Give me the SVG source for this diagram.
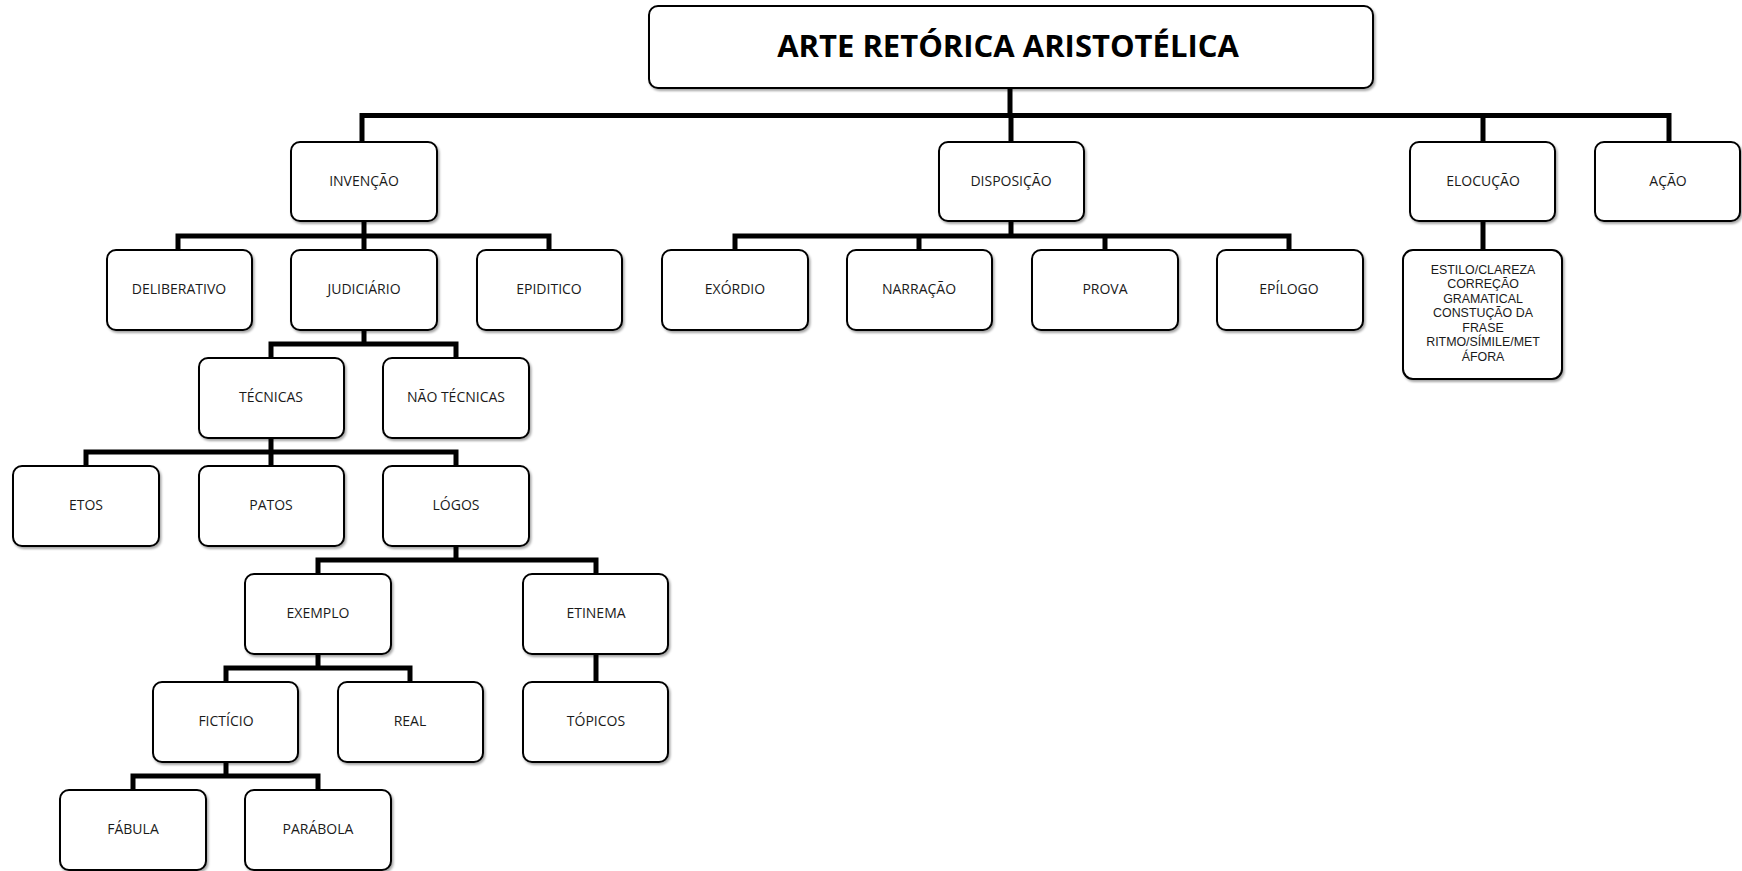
<svg xmlns="http://www.w3.org/2000/svg" width="1742" height="871" viewBox="0 0 1742 871">
<defs>
<filter id="sh" x="-10%" y="-10%" width="130%" height="130%">
<feDropShadow dx="1.5" dy="2" stdDeviation="1.2" flood-color="#000" flood-opacity="0.35"/>
</filter>
</defs>
<style>
.b{fill:#fff;stroke:#000;stroke-width:2;filter:url(#sh)}
.t{font-family:"Open Sans","Liberation Sans",sans-serif;font-size:14px;fill:#1a1a1a;text-anchor:middle;dominant-baseline:central}
.s{font-family:"Liberation Sans","Open Sans",sans-serif;font-size:12.4px;fill:#1a1a1a;text-anchor:middle;dominant-baseline:central}
.title{font-family:"Open Sans","Liberation Sans",sans-serif;font-size:31px;font-weight:bold;fill:#000;text-anchor:middle;dominant-baseline:central}
.c{fill:none;stroke:#000;stroke-width:5;stroke-linejoin:miter}
</style>
<rect x="0" y="0" width="1742" height="871" fill="#fff"/>
<g id="connectors">
<path class="c" d="M1010 88V115.5M362 142V115.5H1669V142M1011 115.5V142M1483 115.5V142"/>
<path class="c" d="M364 221V236M178 250V236H549V250M364 236V250"/>
<path class="c" d="M1011 221V236M735 250V236H1289V250M919 236V250M1105 236V250"/>
<path class="c" d="M1483 221V250"/>
<path class="c" d="M364 330V344M271 358V344H456V358"/>
<path class="c" d="M271 438V452M86 466V452H456V466M271 452V466"/>
<path class="c" d="M456 546V560M318 574V560H596V574"/>
<path class="c" d="M318 654V668M226 682V668H410V682"/>
<path class="c" d="M596 654V682"/>
<path class="c" d="M226 762V776M133 790V776H318V790"/>
</g>
<g id="n-title"><rect class="b" x="649" y="6" width="724" height="82" rx="9"/><text class="title" x="1008" y="45">ARTE RETÓRICA ARISTOTÉLICA</text></g>
<g id="n-invencao"><rect class="b" x="291" y="142" width="146" height="79" rx="9"/><text class="t" x="364" y="180">INVENÇÃO</text></g>
<g id="n-disposicao"><rect class="b" x="939" y="142" width="145" height="79" rx="9"/><text class="t" x="1011" y="180">DISPOSIÇÃO</text></g>
<g id="n-elocucao"><rect class="b" x="1410" y="142" width="145" height="79" rx="9"/><text class="t" x="1483" y="180">ELOCUÇÃO</text></g>
<g id="n-acao"><rect class="b" x="1595" y="142" width="145" height="79" rx="9"/><text class="t" x="1668" y="180">AÇÃO</text></g>
<g id="n-deliberativo"><rect class="b" x="107" y="250" width="145" height="80" rx="9"/><text class="t" x="179" y="288">DELIBERATIVO</text></g>
<g id="n-judiciario"><rect class="b" x="291" y="250" width="146" height="80" rx="9"/><text class="t" x="364" y="288">JUDICIÁRIO</text></g>
<g id="n-epiditico"><rect class="b" x="477" y="250" width="145" height="80" rx="9"/><text class="t" x="549" y="288">EPIDITICO</text></g>
<g id="n-exordio"><rect class="b" x="662" y="250" width="146" height="80" rx="9"/><text class="t" x="735" y="288">EXÓRDIO</text></g>
<g id="n-narracao"><rect class="b" x="847" y="250" width="145" height="80" rx="9"/><text class="t" x="919" y="288">NARRAÇÃO</text></g>
<g id="n-prova"><rect class="b" x="1032" y="250" width="146" height="80" rx="9"/><text class="t" x="1105" y="288">PROVA</text></g>
<g id="n-epilogo"><rect class="b" x="1217" y="250" width="146" height="80" rx="9"/><text class="t" x="1289" y="288">EPÍLOGO</text></g>
<g id="n-estilo"><rect class="b" x="1403" y="250" width="159" height="129" rx="10"/>
<text class="s" x="1483" y="269.5">ESTILO/CLAREZA</text>
<text class="s" x="1483" y="284">CORREÇÃO</text>
<text class="s" x="1483" y="298.5">GRAMATICAL</text>
<text class="s" x="1483" y="313">CONSTUÇÃO DA</text>
<text class="s" x="1483" y="327.5">FRASE</text>
<text class="s" x="1483" y="342">RITMO/SÍMILE/MET</text>
<text class="s" x="1483" y="356.5">ÁFORA</text></g>
<g id="n-tecnicas"><rect class="b" x="199" y="358" width="145" height="80" rx="9"/><text class="t" x="271" y="396">TÉCNICAS</text></g>
<g id="n-naotecnicas"><rect class="b" x="383" y="358" width="146" height="80" rx="9"/><text class="t" x="456" y="396">NÃO TÉCNICAS</text></g>
<g id="n-etos"><rect class="b" x="13" y="466" width="146" height="80" rx="9"/><text class="t" x="86" y="504">ETOS</text></g>
<g id="n-patos"><rect class="b" x="199" y="466" width="145" height="80" rx="9"/><text class="t" x="271" y="504">PATOS</text></g>
<g id="n-logos"><rect class="b" x="383" y="466" width="146" height="80" rx="9"/><text class="t" x="456" y="504">LÓGOS</text></g>
<g id="n-exemplo"><rect class="b" x="245" y="574" width="146" height="80" rx="9"/><text class="t" x="318" y="612">EXEMPLO</text></g>
<g id="n-etinema"><rect class="b" x="523" y="574" width="145" height="80" rx="9"/><text class="t" x="596" y="612">ETINEMA</text></g>
<g id="n-ficticio"><rect class="b" x="153" y="682" width="145" height="80" rx="9"/><text class="t" x="226" y="720">FICTÍCIO</text></g>
<g id="n-real"><rect class="b" x="338" y="682" width="145" height="80" rx="9"/><text class="t" x="410" y="720">REAL</text></g>
<g id="n-topicos"><rect class="b" x="523" y="682" width="145" height="80" rx="9"/><text class="t" x="596" y="720">TÓPICOS</text></g>
<g id="n-fabula"><rect class="b" x="60" y="790" width="146" height="80" rx="9"/><text class="t" x="133" y="828">FÁBULA</text></g>
<g id="n-parabola"><rect class="b" x="245" y="790" width="146" height="80" rx="9"/><text class="t" x="318" y="828">PARÁBOLA</text></g>
</svg>
